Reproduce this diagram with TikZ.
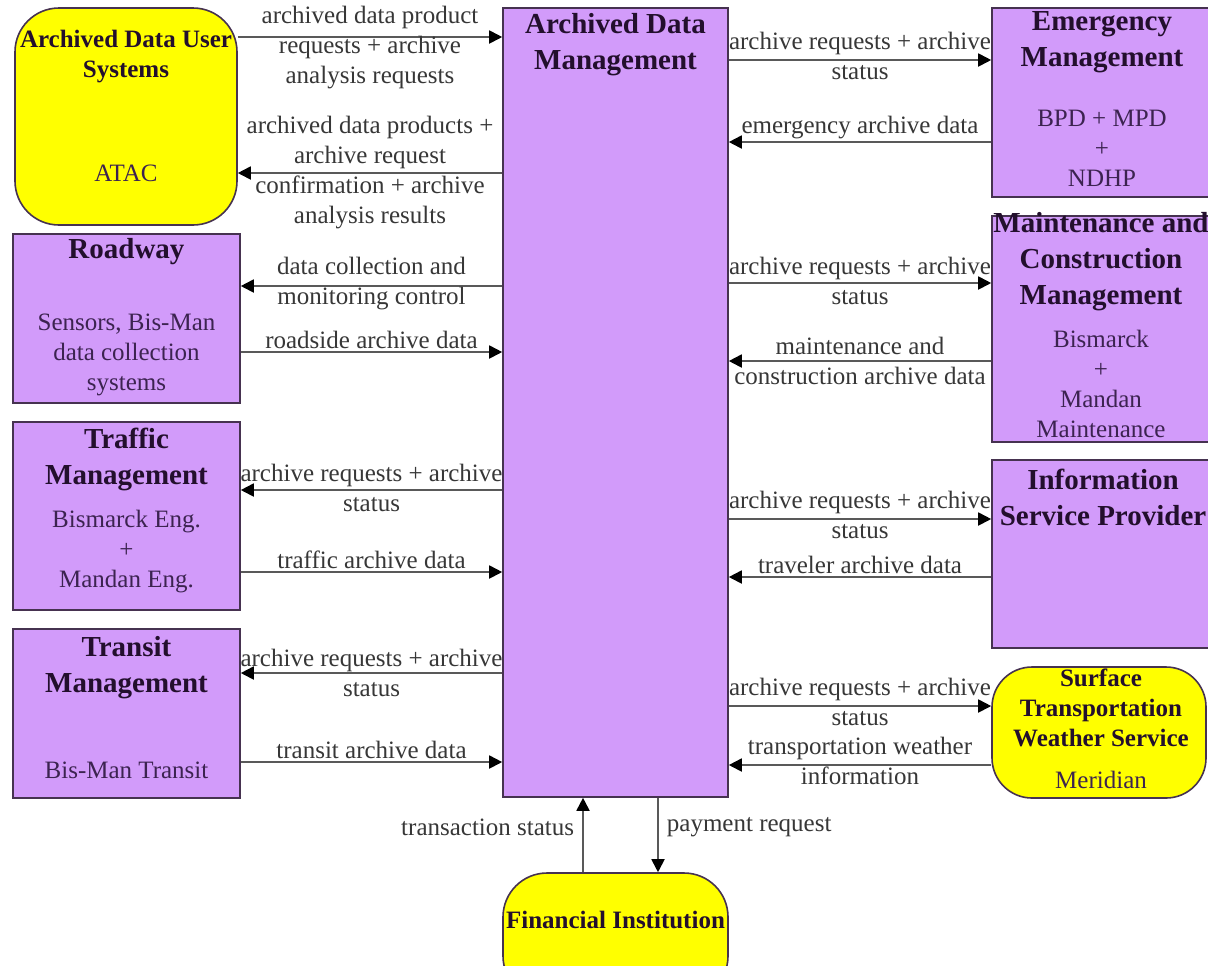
\documentclass[tikz,border=0pt]{standalone}
\usepackage{fontspec}
\setmainfont{Liberation Serif}
\usepackage{xcolor}
\usepackage{tikz}
\usetikzlibrary{arrows.meta}
\definecolor{boxpurple}{RGB}{210,155,250}
\definecolor{termyellow}{RGB}{255,255,0}
\definecolor{edgeline}{RGB}{70,50,80}
\definecolor{ink}{RGB}{35,15,45}
\definecolor{subink}{RGB}{60,35,80}
\definecolor{lblgray}{RGB}{55,55,55}
\newcommand{\lblsize}{\fontsize{12.5pt}{15pt}\selectfont}
\newcommand{\ttlsize}{\fontsize{14.5pt}{18pt}\selectfont\bfseries}
\newcommand{\ylwsize}{\fontsize{12.5pt}{15pt}\selectfont\bfseries}

\begin{document}
\begin{tikzpicture}[x=0.5pt,y=-0.5pt,
    pbox/.style={draw=edgeline, line width=0.8pt, fill=boxpurple, inner sep=0pt},
    ybox/.style={draw=edgeline, line width=0.8pt, fill=termyellow, inner sep=0pt, rounded corners=22pt},
    ttl/.style={text=ink, align=center, font=\ttlsize, inner sep=0pt},
    ylw/.style={text=ink, align=center, font=\ylwsize, inner sep=0pt},
    sub/.style={text=subink, align=center, font=\lblsize, inner sep=0pt},
    lbl/.style={text=lblgray, align=center, font=\lblsize, inner sep=1pt},
    flow/.style={draw=black!65, line width=0.9pt, -{Triangle[length=6.5pt,width=6.5pt,color=black]}}]
    \clip (0,0) rectangle (1208,965);
    \fill[white] (0,0) rectangle (1208,965);

    % Centre
    \node[pbox, minimum width=112.5pt, minimum height=394.5pt] (adm) at (615.5,402.5) {};
    \node[ttl] (admt) at (615.5,45) {Archived Data\\Management};

    % Left column
    \node[ybox, minimum width=111pt, minimum height=108.5pt] (adus) at (126,116.5) {};
    \node[ylw] (adust) at (126,57) {Archived Data User\\Systems};
    \node[sub] (aduss) at (126,173) {ATAC};

    \node[pbox, minimum width=113.5pt, minimum height=84.5pt] (road) at (126.5,318.5) {};
    \node[ttl] (roadt) at (126.5,252) {Roadway};
    \node[sub] (roads) at (126.5,355) {Sensors, Bis-Man\\data collection\\systems};

    \node[pbox, minimum width=113.5pt, minimum height=94pt] (traf) at (126.5,516) {};
    \node[ttl] (traft) at (126.5,459) {Traffic\\Management};
    \node[sub] (trafs) at (126.5,552) {Bismarck Eng.\\+\\Mandan Eng.};

    \node[pbox, minimum width=113.5pt, minimum height=84.5pt] (tran) at (126.5,713.5) {};
    \node[ttl] (trant) at (126.5,668) {Transit\\Management};
    \node[sub] (trans) at (126.5,770) {Bis-Man Transit};

    % Right column
    \node[pbox, minimum width=111pt, minimum height=94.5pt] (emer) at (1103,102.5) {};
    \node[ttl] (emert) at (1102,42) {Emergency\\Management};
    \node[sub] (emers) at (1102,148) {BPD + MPD\\+\\NDHP};

    \node[pbox, minimum width=111pt, minimum height=113pt] (mcm) at (1103,329) {};
    \node[ttl] (mcmt) at (1101,262) {Maintenance and\\Construction\\Management};
    \node[sub] (mcms) at (1101,383.5) {Bismarck\\+\\Mandan\\Maintenance};

    \node[pbox, minimum width=111pt, minimum height=94pt] (isp) at (1103,554) {};
    \node[ttl] (ispt) at (1103,497) {Information\\Service Provider};

    \node[ybox, rounded corners=20pt, minimum width=107pt, minimum height=65.5pt] (stws) at (1099,732.5) {};
    \node[ylw] (stwst) at (1101,708) {Surface\\Transportation\\Weather Service};
    \node[sub] (stwss) at (1101,780) {Meridian};

    % Bottom
    \node[ybox, minimum width=112.5pt, minimum height=63.5pt] (fin) at (615.5,936.5) {};
    \node[ylw] (fint) at (615.5,920) {Financial Institution};

    % Flows, left side
    \draw[flow] (adus.east |- 0,37) -- (adm.west |- 0,37)
        node[lbl, midway, yshift=-5.5pt] {archived data product\\requests + archive\\analysis requests};
    \draw[flow] (adm.west |- 0,173) -- (adus.east |- 0,173)
        node[lbl, midway] {archived data products +\\archive request\\confirmation + archive\\analysis results};
    \draw[flow] (adm.west |- 0,286) -- (road.east |- 0,286)
        node[lbl, midway, yshift=1pt] {data collection and\\monitoring control};
    \draw[flow] (road.east |- 0,352) -- (adm.west |- 0,352)
        node[lbl, midway, above] {roadside archive data};
    \draw[flow] (adm.west |- 0,490) -- (traf.east |- 0,490)
        node[lbl, midway, yshift=1pt] {archive requests + archive\\status};
    \draw[flow] (traf.east |- 0,572) -- (adm.west |- 0,572)
        node[lbl, midway, above] {traffic archive data};
    \draw[flow] (adm.west |- 0,673) -- (tran.east |- 0,673)
        node[lbl, midway] {archive requests + archive\\status};
    \draw[flow] (tran.east |- 0,762) -- (adm.west |- 0,762)
        node[lbl, midway, above] {transit archive data};

    % Flows, right side
    \draw[flow] (adm.east |- 0,60) -- (emer.west |- 0,60)
        node[lbl, midway, yshift=2pt] {archive requests + archive\\status};
    \draw[flow] (emer.west |- 0,142) -- (adm.east |- 0,142)
        node[lbl, midway, above] {emergency archive data};
    \draw[flow] (adm.east |- 0,283) -- (mcm.west |- 0,283)
        node[lbl, midway, yshift=1pt] {archive requests + archive\\status};
    \draw[flow] (mcm.west |- 0,361) -- (adm.east |- 0,361)
        node[lbl, midway] {maintenance and\\construction archive data};
    \draw[flow] (adm.east |- 0,519) -- (isp.west |- 0,519)
        node[lbl, midway, yshift=2pt] {archive requests + archive\\status};
    \draw[flow] (isp.west |- 0,577) -- (adm.east |- 0,577)
        node[lbl, midway, above] {traveler archive data};
    \draw[flow] (adm.east |- 0,706) -- (stws.west |- 0,706)
        node[lbl, midway, yshift=2pt] {archive requests + archive\\status};
    \draw[flow] (stws.west |- 0,765) -- (adm.east |- 0,765)
        node[lbl, midway, yshift=2pt] {transportation weather\\information};

    % Flows, bottom
    \draw[flow] (fin.north -| 583,0) -- (adm.south -| 583,0)
        node[lbl, pos=0.6, left=3pt] {transaction status};
    \draw[flow] (adm.south -| 658,0) -- (fin.north -| 658,0)
        node[lbl, pos=0.4, right=3pt] {payment request};
\end{tikzpicture}
\end{document}
